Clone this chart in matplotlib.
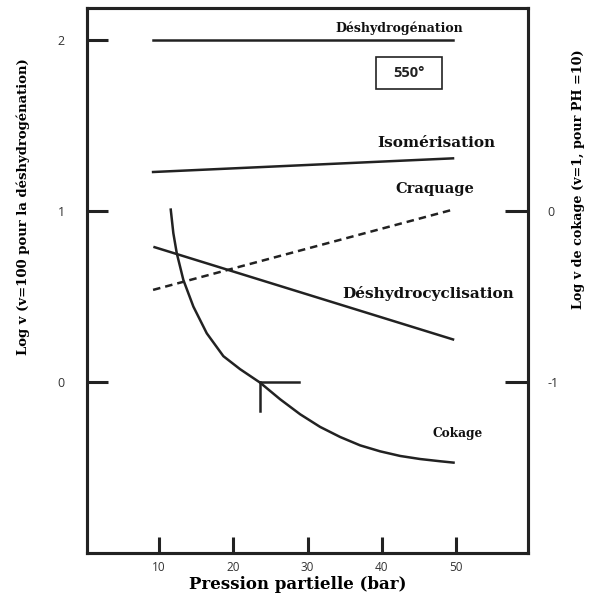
import matplotlib
matplotlib.use("Agg")
import matplotlib.pyplot as plt
from matplotlib.patches import Rectangle

# ---- data ----
x_ticks = [10, 20, 30, 40, 50]
y_left_ticks = [0, 1, 2]
y_right_ticks = [-1, 0]

dehydro_x = [9.2, 49.6]
dehydro_y = [2.0, 2.0]
isom_x = [9.2, 49.6]
isom_y = [1.23, 1.31]
craq_x = [9.2, 49.6]
craq_y = [0.54, 1.01]
dcycl_x = [9.4, 49.6]
dcycl_y = [0.79, 0.25]
coke_x = [11.58, 11.93, 12.39, 13.28, 14.63, 16.43, 18.67, 20.92, 23.62, 26.31,
          29.01, 31.70, 34.40, 37.09, 39.79, 42.48, 45.18, 47.87, 49.67]
coke_y = [0.01, -0.128, -0.245, -0.402, -0.558, -0.714, -0.848, -0.924, -1.003,
          -1.100, -1.188, -1.262, -1.321, -1.370, -1.405, -1.432, -1.450, -1.463,
          -1.471]
mark_h_x = [23.6, 28.8]
mark_h_y = [-1.0, -1.0]
mark_v_x = [23.6, 23.6]
mark_v_y = [-1.0, -1.17]

LC = "#222222"
TC = "#111111"
SERIF = ["DejaVu Serif"]

fig = plt.figure(figsize=(5.9, 5.95), dpi=100)
ax = fig.add_axes([87/590, 1-553/595, 441/590, 545/595])
ax.set_xlim(0.3, 59.7)
ax.set_ylim(-1.0, 2.19)
ax2 = ax.twinx()
ax2.set_ylim(-2.0, 1.19)

for a in (ax, ax2):
    for s in a.spines.values():
        s.set_linewidth(2.2)
        s.set_color(LC)

ax.plot(dehydro_x, dehydro_y, color=LC, lw=1.8)
ax.plot(isom_x, isom_y, color=LC, lw=1.8)
ax.plot(craq_x, craq_y, color=LC, lw=1.8, ls=(0, (3, 2)))
ax.plot(dcycl_x, dcycl_y, color=LC, lw=1.8)
ax2.plot(coke_x, coke_y, color=LC, lw=1.8)
ax2.plot(mark_h_x, mark_h_y, color=LC, lw=1.8)
ax2.plot(mark_v_x, mark_v_y, color=LC, lw=1.8)

ax.set_xticks(x_ticks)
ax.set_xticklabels([str(v) for v in x_ticks])
ax.set_yticks(y_left_ticks)
ax.set_yticklabels([str(v) for v in y_left_ticks])
ax2.set_yticks(y_right_ticks)
ax2.set_yticklabels([str(v) for v in y_right_ticks])

ax.tick_params(axis="x", direction="in", length=11.5, width=2.2, color=LC,
               pad=6, labelsize=8.5, labelcolor="#333333")
ax.tick_params(axis="y", direction="in", length=15, width=2.2, color=LC,
               pad=16, labelsize=9, labelcolor="#333333")
ax2.tick_params(axis="y", direction="in", length=16.5, width=2.2, color=LC,
                pad=14, labelsize=9, labelcolor="#333333")
for lab in ax.get_xticklabels() + ax.get_yticklabels() + ax2.get_yticklabels():
    lab.set_fontfamily("Open Sans")

ax.set_xlabel("Pression partielle (bar)", family=SERIF, fontweight="bold", fontsize=12)
ax.xaxis.set_label_coords(0.478, -0.042)
ax.set_ylabel("Log v (v=100 pour la déshydrogénation)", family=SERIF,
              fontweight="bold", fontsize=9.5)
ax.yaxis.set_label_coords(-0.13, 0.635)
ax2.set_ylabel("Log v de cokage (v=1, pour PH =10)", family=SERIF,
               fontweight="bold", fontsize=9.2)
ax2.yaxis.set_label_coords(1.10, 0.686)

ax.text(42.3, 2.07, "Déshydrogénation", family=SERIF, fontweight="bold",
        fontsize=9, ha="center", va="center", color=TC)
ax.text(47.3, 1.40, "Isomérisation", family=SERIF, fontweight="bold",
        fontsize=11, ha="center", va="center", color=TC)
ax.text(47.1, 1.13, "Craquage", family=SERIF, fontweight="bold",
        fontsize=10.5, ha="center", va="center", color=TC)
ax.text(46.2, 0.52, "Déshydrocyclisation", family=SERIF, fontweight="bold",
        fontsize=11, ha="center", va="center", color=TC)
ax.text(50.2, -0.30, "Cokage", family=SERIF, fontweight="bold",
        fontsize=8.7, ha="center", va="center", color=TC)
ax.add_patch(Rectangle((39.25, 1.713), 8.85, 0.193, fill=False, ec=LC, lw=1.2))
ax.text(43.7, 1.81, "550°", family="Open Sans", fontweight="bold",
        fontsize=10.5, ha="center", va="center", color="#222222")

fig.savefig("out.png", dpi=100)
